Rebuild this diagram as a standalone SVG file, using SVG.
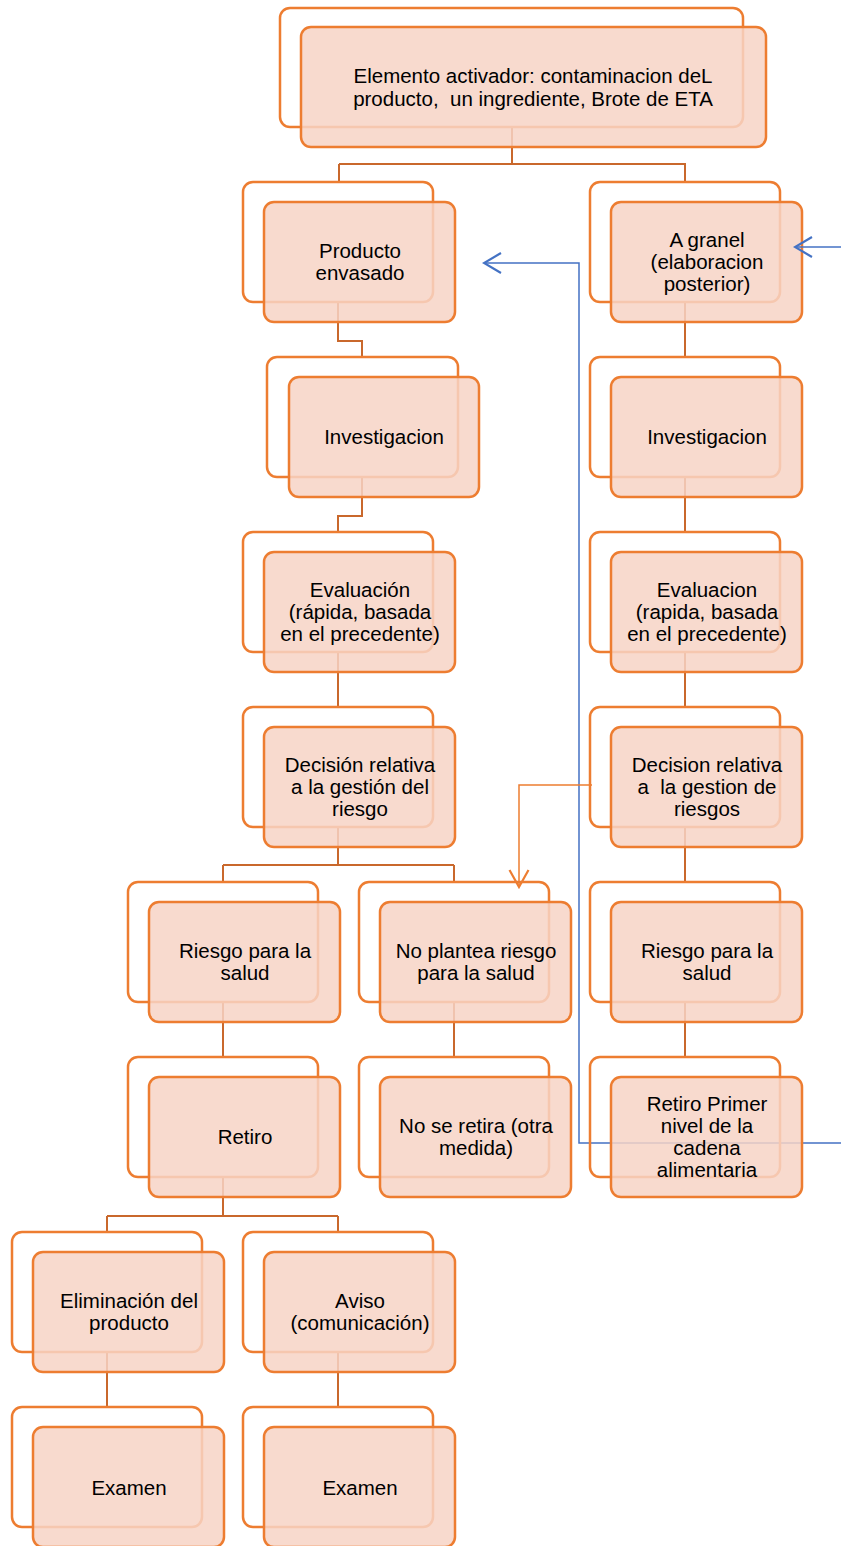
<svg xmlns="http://www.w3.org/2000/svg" width="841" height="1546" viewBox="0 0 841 1546">
<style>
.bk{fill:none;stroke:#ED7D31;stroke-width:2.5}
.fr{fill:#F7D3C6;fill-opacity:0.85;stroke:#ED7D31;stroke-width:2.5}
.t{font-family:"Liberation Sans",Arial,sans-serif;font-size:20.5px;fill:#000;text-anchor:middle}
.cn{fill:none;stroke:#C9682C;stroke-width:2}
.bl{fill:none;stroke:#4472C4;stroke-width:1.5}
.or{fill:none;stroke:#ED7D31;stroke-width:1.5}
</style>
<defs>
<marker id="ab" markerUnits="userSpaceOnUse" viewBox="0 0 20 22" refX="18" refY="11" markerWidth="20" markerHeight="22" orient="auto">
<path d="M1,1 L18,11 L1,21" fill="none" stroke="#4472C4" stroke-width="2.2"/>
</marker>
<marker id="ao" markerUnits="userSpaceOnUse" viewBox="0 0 20 22" refX="18" refY="11" markerWidth="20" markerHeight="22" orient="auto">
<path d="M1,1.5 L18,11 L1,20.5" fill="none" stroke="#ED7D31" stroke-width="2.2"/>
</marker>
</defs>
<rect width="841" height="1546" fill="#fff"/>
<g id="connectors">
<path class="cn" d="M512,127 V164 M339,164 H686 M339,164 V182 M685,164 V182"/>
<path class="cn" d="M338,302 V341 H362 V357"/>
<path class="cn" d="M362,478 V516 H338 V532"/>
<path class="cn" d="M338,652 V707"/>
<path class="cn" d="M338,827 V865 M223,865 H454 M223,865 V882 M454,865 V882"/>
<path class="cn" d="M223,1002 V1057 M454,1002 V1057"/>
<path class="cn" d="M223,1177 V1216 M107,1216 H338 M107,1216 V1232 M338,1216 V1232"/>
<path class="cn" d="M107,1352 V1407 M338,1352 V1407"/>
<path class="cn" d="M685,302 V357 M685,477 V532 M685,652 V707 M685,827 V882 M685,1002 V1057"/>
<path class="bl" d="M841,1143 H579 V263 H484" marker-end="url(#ab)"/>
<path class="or" d="M592,785 H519 V887" marker-end="url(#ao)"/>
</g>
<g id="n-top">
<rect class="bk" x="280" y="8" width="463" height="119" rx="10"/>
<rect class="fr" x="301" y="27" width="465" height="120" rx="10"/>
<text class="t" x="533" y="83">Elemento activador: contaminacion deL</text>
<text class="t" x="533" y="105.5" style="white-space:pre">producto,  un ingrediente, Brote de ETA</text>
</g>
<g id="n-envasado">
<rect class="bk" x="243" y="182" width="190" height="120" rx="10"/>
<rect class="fr" x="264" y="202" width="191" height="120" rx="10"/>
<text class="t" x="360" y="258">Producto</text>
<text class="t" x="360" y="280">envasado</text>
</g>
<g id="n-granel">
<rect class="bk" x="590" y="182" width="190" height="120" rx="10"/>
<rect class="fr" x="611" y="202" width="191" height="120" rx="10"/>
<text class="t" x="707" y="247">A granel</text>
<text class="t" x="707" y="269">(elaboracion</text>
<text class="t" x="707" y="291">posterior)</text>
</g>
<g id="n-invest-l">
<rect class="bk" x="267" y="357" width="191" height="120" rx="10"/>
<rect class="fr" x="289" y="377" width="190" height="120" rx="10"/>
<text class="t" x="384" y="444">Investigacion</text>
</g>
<g id="n-invest-r">
<rect class="bk" x="590" y="357" width="190" height="120" rx="10"/>
<rect class="fr" x="611" y="377" width="191" height="120" rx="10"/>
<text class="t" x="707" y="444">Investigacion</text>
</g>
<g id="n-eval-l">
<rect class="bk" x="243" y="532" width="190" height="120" rx="10"/>
<rect class="fr" x="264" y="552" width="191" height="120" rx="10"/>
<text class="t" x="360" y="597">Evaluación</text>
<text class="t" x="360" y="619">(rápida, basada</text>
<text class="t" x="360" y="641">en el precedente)</text>
</g>
<g id="n-eval-r">
<rect class="bk" x="590" y="532" width="190" height="120" rx="10"/>
<rect class="fr" x="611" y="552" width="191" height="120" rx="10"/>
<text class="t" x="707" y="597">Evaluacion</text>
<text class="t" x="707" y="619">(rapida, basada</text>
<text class="t" x="707" y="641">en el precedente)</text>
</g>
<g id="n-decision-l">
<rect class="bk" x="243" y="707" width="190" height="120" rx="10"/>
<rect class="fr" x="264" y="727" width="191" height="120" rx="10"/>
<text class="t" x="360" y="772">Decisión relativa</text>
<text class="t" x="360" y="794">a la gestión del</text>
<text class="t" x="360" y="816">riesgo</text>
</g>
<g id="n-decision-r">
<rect class="bk" x="590" y="707" width="190" height="120" rx="10"/>
<rect class="fr" x="611" y="727" width="191" height="120" rx="10"/>
<text class="t" x="707" y="772">Decision relativa</text>
<text class="t" x="707" y="794" style="white-space:pre">a  la gestion de</text>
<text class="t" x="707" y="816">riesgos</text>
</g>
<g id="n-riesgo-l">
<rect class="bk" x="128" y="882" width="190" height="120" rx="10"/>
<rect class="fr" x="149" y="902" width="191" height="120" rx="10"/>
<text class="t" x="245" y="958">Riesgo para la</text>
<text class="t" x="245" y="980">salud</text>
</g>
<g id="n-noriesgo">
<rect class="bk" x="359" y="882" width="190" height="120" rx="10"/>
<rect class="fr" x="380" y="902" width="191" height="120" rx="10"/>
<text class="t" x="476" y="958">No plantea riesgo</text>
<text class="t" x="476" y="980">para la salud</text>
</g>
<g id="n-riesgo-r">
<rect class="bk" x="590" y="882" width="190" height="120" rx="10"/>
<rect class="fr" x="611" y="902" width="191" height="120" rx="10"/>
<text class="t" x="707" y="958">Riesgo para la</text>
<text class="t" x="707" y="980">salud</text>
</g>
<g id="n-retiro">
<rect class="bk" x="128" y="1057" width="190" height="120" rx="10"/>
<rect class="fr" x="149" y="1077" width="191" height="120" rx="10"/>
<text class="t" x="245" y="1144">Retiro</text>
</g>
<g id="n-noretira">
<rect class="bk" x="359" y="1057" width="190" height="120" rx="10"/>
<rect class="fr" x="380" y="1077" width="191" height="120" rx="10"/>
<text class="t" x="476" y="1133">No se retira (otra</text>
<text class="t" x="476" y="1155">medida)</text>
</g>
<g id="n-retiro-primer">
<rect class="bk" x="590" y="1057" width="190" height="120" rx="10"/>
<rect class="fr" x="611" y="1077" width="191" height="120" rx="10"/>
<text class="t" x="707" y="1111">Retiro Primer</text>
<text class="t" x="707" y="1133">nivel de la</text>
<text class="t" x="707" y="1155">cadena</text>
<text class="t" x="707" y="1177">alimentaria</text>
</g>
<g id="n-eliminacion">
<rect class="bk" x="12" y="1232" width="190" height="120" rx="10"/>
<rect class="fr" x="33" y="1252" width="191" height="120" rx="10"/>
<text class="t" x="129" y="1308">Eliminación del</text>
<text class="t" x="129" y="1330">producto</text>
</g>
<g id="n-aviso">
<rect class="bk" x="243" y="1232" width="190" height="120" rx="10"/>
<rect class="fr" x="264" y="1252" width="191" height="120" rx="10"/>
<text class="t" x="360" y="1308">Aviso</text>
<text class="t" x="360" y="1330">(comunicación)</text>
</g>
<g id="n-examen-l">
<rect class="bk" x="12" y="1407" width="190" height="120" rx="10"/>
<rect class="fr" x="33" y="1427" width="191" height="120" rx="10"/>
<text class="t" x="129" y="1495">Examen</text>
</g>
<g id="n-examen-r">
<rect class="bk" x="243" y="1407" width="190" height="120" rx="10"/>
<rect class="fr" x="264" y="1427" width="191" height="120" rx="10"/>
<text class="t" x="360" y="1495">Examen</text>
</g>
<g id="links-over">
<path class="bl" d="M841,247 H795" marker-end="url(#ab)"/>
</g>
</svg>
